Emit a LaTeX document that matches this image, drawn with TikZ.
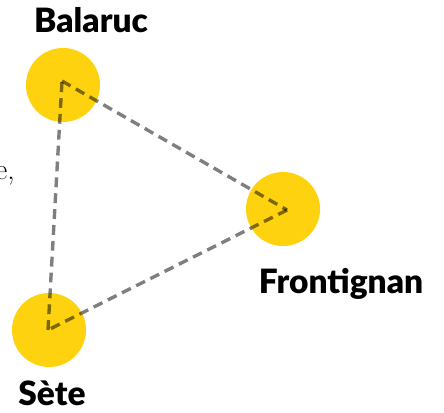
\documentclass[tikz,border=0pt]{standalone}
\usepackage{fontspec}
\setmainfont{Latin Modern Roman}
\newfontfamily\townfont{Lato Black}
\definecolor{townyellow}{RGB}{254,210,14}

\begin{document}
\begin{tikzpicture}[
    x=0.025cm, y=-0.025cm,
    % Estilos de los nodos
    town/.style={circle, fill=townyellow, inner sep=0pt, minimum size=1.85cm},
    townname/.style={anchor=base, font=\townfont\fontsize{23.8}{28}\selectfont},
    % Estilo de las conexiones
    road/.style={draw=black, opacity=0.5, line width=2.4pt, dash pattern=on 7pt off 4.3pt}
]
\useasboundingbox (0,0) rectangle (444,412);

% ==========================================
% CIUDADES
% ==========================================
\node[town] (balaruc) at (63,85) {};
\node[town] (frontignan) at (283,209) {};
\node[town] (sete) at (49,330) {};

\node[townname] (lbalaruc) at (91,33) {Balaruc};
\node[townname] (lfrontignan) at (341,293) {Frontignan};
\node[townname] (lsete) at (52,405) {Sète};

% Vértices del triángulo
\coordinate (vb) at (62,81);
\coordinate (vf) at (287,210);
\coordinate (vs) at (48,330);

% ==========================================
% CONEXIONES
% ==========================================
\draw[road] (vb) -- (vf);
\draw[road] (vf) -- (vs);
\draw[road] (vs) -- (vb);

% Texto cortado en el borde
\node[anchor=base east, font=\fontsize{21}{25}\selectfont, inner sep=0pt] (cut) at (15,179) {e,};
\end{tikzpicture}
\end{document}
